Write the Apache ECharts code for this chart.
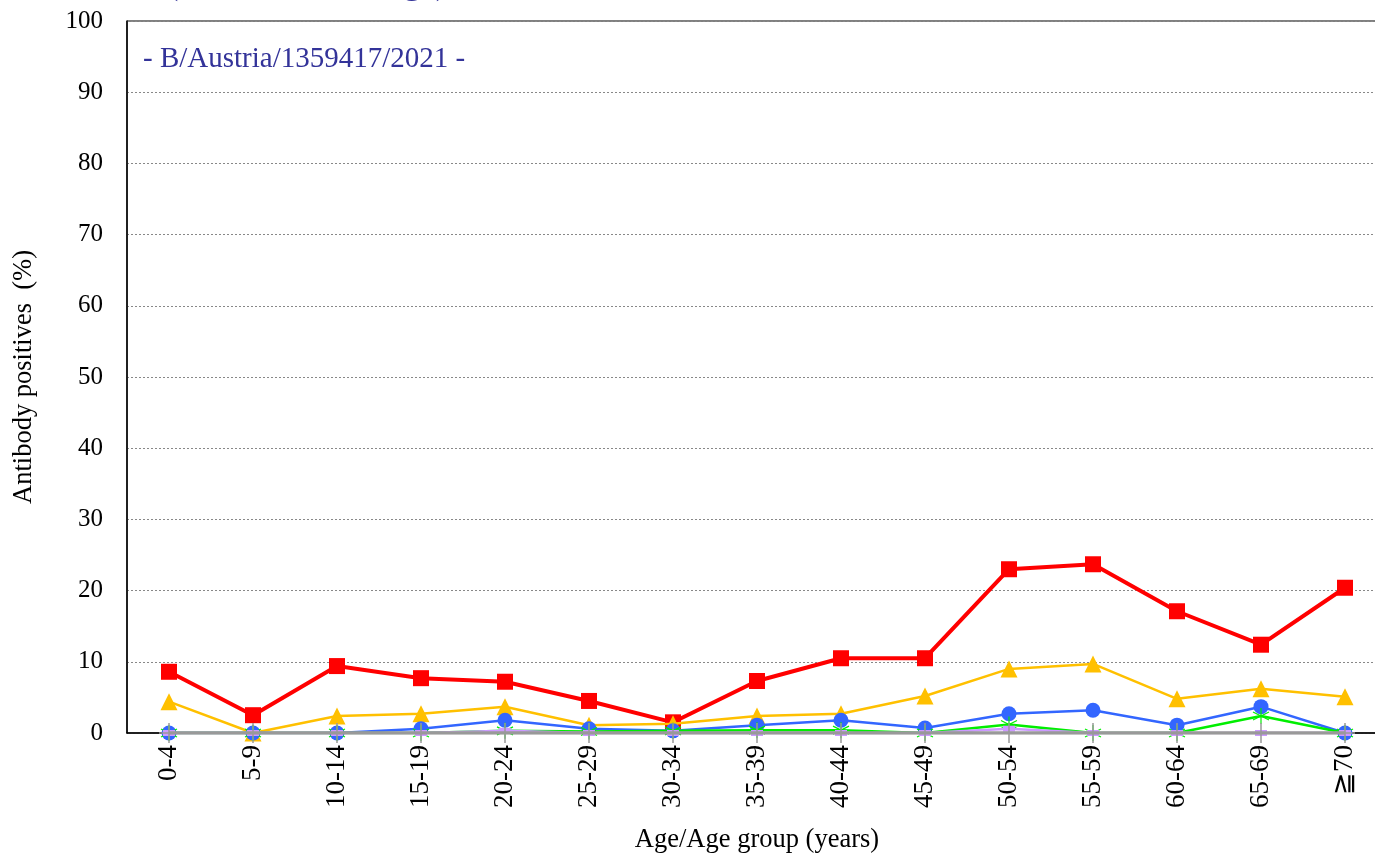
<!DOCTYPE html>
<html>
<head>
<meta charset="utf-8">
<script src="https://cdn.jsdelivr.net/npm/echarts@6/dist/echarts.min.js"></script>
<style>html,body{margin:0;padding:0;background:#fff;overflow:hidden}#c{width:1375px;height:854px}</style>
</head>
<body>
<div id="c"></div>
<script>
const categories = ['0-4','5-9','10-14','15-19','20-24','25-29','30-34','35-39','40-44','45-49','50-54','55-59','60-64','65-69','≧70'];
const yTicks = [0,10,20,30,40,50,60,70,80,90,100];
const redSeries    = [8.6, 2.5, 9.4, 7.7, 7.2, 4.5, 1.5, 7.3, 10.5, 10.5, 23.0, 23.7, 17.1, 12.4, 20.4];
const yellowSeries = [4.4, 0.0, 2.4, 2.7, 3.7, 1.1, 1.3, 2.4, 2.7, 5.2, 9.0, 9.7, 4.8, 6.2, 5.1];
const blueSeries   = [0.0, 0.0, 0.0, 0.6, 1.8, 0.6, 0.3, 1.1, 1.8, 0.7, 2.7, 3.2, 1.1, 3.7, 0.0];
const greenSeries  = [0.0, 0.0, 0.0, 0.0, 0.3, 0.2, 0.3, 0.4, 0.4, 0.0, 1.2, 0.0, 0.0, 2.4, 0.0];
const purpleSeries = [0.0, 0.0, 0.0, 0.0, 0.3, 0.0, 0.0, 0.0, 0.0, 0.0, 0.6, 0.0, 0.0, 0.0, 0.0];
const graySeries   = [0,0,0,0,0,0,0,0,0,0,0,0,0,0,0];
const titleText = '(HI titer ≥1:40 age)';
const subText = '- B/Austria/1359417/2021 -';

const chart = echarts.init(document.getElementById('c'), null, {renderer:'canvas'});
const FONT = '"Liberation Serif","Times New Roman",serif';
const asterisk = 'path://M0,-10L0,10M-8.66,-5L8.66,5M-8.66,5L8.66,-5';
const plus = 'path://M0,-10L0,10M-10,0L10,0';
chart.setOption({
  animation:false,
  backgroundColor:'#fff',
  title:[
    {text:titleText, left:162, top:-37, textStyle:{fontFamily:FONT,fontSize:34,fontWeight:'bold',color:'#333399'}},
    {text:subText, left:138, top:40, textStyle:{fontFamily:FONT,fontSize:29,fontWeight:'normal',color:'#333399'}}
  ],
  grid:{left:127,right:-12,top:21,bottom:121,show:true,borderColor:'#000',borderWidth:1,backgroundColor:'transparent',containLabel:false,outerBoundsMode:'none'},
  xAxis:{
    type:'category', data:categories, boundaryGap:true,
    name:'Age/Age group (years)', nameLocation:'middle', nameGap:94,
    nameTextStyle:{fontFamily:FONT,fontSize:26.5,color:'#000'},
    axisLine:{lineStyle:{color:'#000',width:1.5}},
    axisTick:{show:false},
    axisLabel:{rotate:90,fontFamily:FONT,fontSize:27,color:'#000',margin:12}
  },
  yAxis:{
    type:'value', min:yTicks[0], max:yTicks[yTicks.length-1], interval:10,
    name:'Antibody positives  (%)', nameLocation:'middle', nameGap:89,
    nameTextStyle:{fontFamily:FONT,fontSize:26.5,color:'#000'},
    axisLine:{show:true,lineStyle:{color:'#000',width:1.5}},
    axisTick:{show:false},
    axisLabel:{fontFamily:FONT,fontSize:25,color:'#000',margin:24},
    splitLine:{lineStyle:{color:'#888',type:[2,2],width:1}}
  },
  series:[
    {type:'line',data:redSeries,symbol:'rect',symbolSize:16,lineStyle:{color:'#ff0000',width:4},itemStyle:{color:'#ff0000'},z:2},
    {type:'line',data:yellowSeries,symbol:'triangle',symbolSize:17,lineStyle:{color:'#ffc000',width:2.5},itemStyle:{color:'#ffc000'},z:3},
    {type:'line',data:blueSeries,symbol:'circle',symbolSize:15,lineStyle:{color:'#3366ff',width:2.5},itemStyle:{color:'#3366ff'},z:4},
    {type:'line',data:greenSeries,symbol:asterisk,symbolSize:16,lineStyle:{color:'#00ee00',width:2.5},itemStyle:{color:'transparent',borderColor:'#00ee00',borderWidth:1.2},z:5},
    {type:'line',data:purpleSeries,symbol:'rect',symbolSize:[12,6],lineStyle:{color:'#cc99ff',width:2.5},itemStyle:{color:'#cc99ff'},z:6},
    {type:'line',data:graySeries,symbol:plus,symbolSize:20,lineStyle:{color:'#999999',width:3.5},itemStyle:{color:'transparent',borderColor:'#999999',borderWidth:1.5},z:7}
  ]
});
</script>
</body>
</html>
